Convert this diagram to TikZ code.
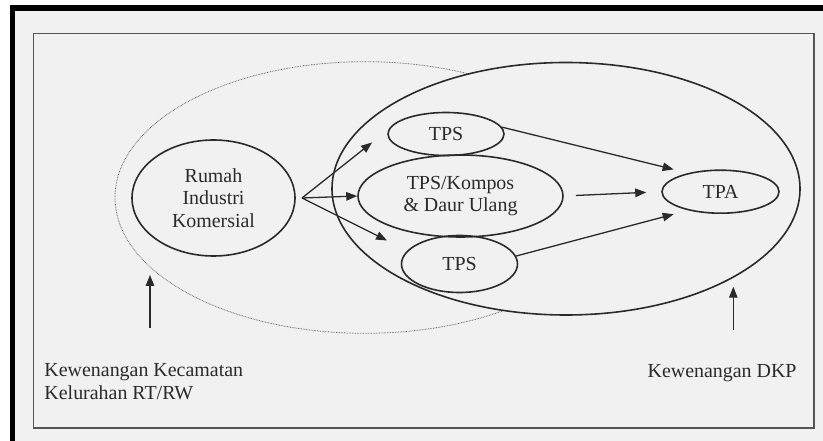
\documentclass[tikz,border=0pt]{standalone}
\usepackage{fontspec}
\setmainfont{Liberation Serif}
\usetikzlibrary{shapes.geometric,arrows.meta}

\definecolor{paper}{HTML}{F1F1F1}
\definecolor{ink}{HTML}{2A2A2A}

\tikzset{
  zone/.style={draw=ink, line width=1.6pt},
  blob/.style={ellipse, draw=ink, line width=1.6pt, inner sep=0pt, align=center, text=ink},
  arr/.style={draw=ink, line width=1.3pt, -{Triangle[length=11pt,width=8.5pt]}},
  lbl/.style={text=ink, inner sep=0pt, align=left}
}

\begin{document}
\begin{tikzpicture}[x=1bp, y=-1bp, font=\fontsize{20}{22.5}\selectfont]
  \useasboundingbox (0,0) rectangle (823,441);
  \fill[paper] (15,11) rectangle (823,441);
  \fill[black] (10,5) rectangle (823,11);
  \fill[black] (10,5) rectangle (15,441);
  \draw[ink!80, line width=1.2pt] (33.5,33.5) rectangle (814,428);

  \draw[ink!75, line width=0.8pt, dash pattern=on 0.7pt off 0.9pt] (365,197.5) ellipse [x radius=250, y radius=135.8];
  \filldraw[fill=paper, zone] (566,188.75) ellipse [x radius=234, y radius=126.25];

  \node[blob, minimum width=163bp, minimum height=116bp] (rumah) at (213.5,198) {Rumah\\Industri\\Komersial};
  \node[blob, minimum width=116bp, minimum height=43bp] (tpsa) at (446,134) {TPS};
  \node[blob, minimum width=205bp, minimum height=82bp] (kompos) at (460.5,196) {TPS/Kompos\\\& Daur Ulang};
  \node[blob, minimum width=116bp, minimum height=57bp] (tpsb) at (459.5,264) {TPS};
  \node[blob, minimum width=117bp, minimum height=43bp] (tpa) at (720.5,191.7) {TPA};

  \coordinate (fan) at (302,198);
  \coordinate (fanUp) at (372,142.5);
  \coordinate (fanDn) at (387,240.5);
  \draw[arr] (fan) -- (fanUp);
  \draw[arr] (fan) -- (kompos.west);
  \draw[arr] (fan) -- (fanDn);

  \draw[arr, shorten >=15bp] (tpsa.7) -- (tpa.150);
  \draw[arr, shorten <=12bp, shorten >=15bp] (kompos.east) -- (tpa.west);
  \draw[arr, shorten >=15bp] (tpsb.8) -- (tpa.210);

  \node[lbl, anchor=base west] (kec) at (44.3,399.3) {Kewenangan Kecamatan\\Kelurahan RT/RW};
  \node[lbl, anchor=base east] (dkp) at (796.7,377.7) {Kewenangan DKP};

  \coordinate (kecFoot) at (150,328.5);
  \coordinate (kecTip) at (150,275);
  \coordinate (dkpFoot) at (733.3,330);
  \coordinate (dkpTip) at (733.3,286.7);
  \draw[arr] (kecFoot) -- (kecTip);
  \draw[arr] (dkpFoot) -- (dkpTip);
\end{tikzpicture}
\end{document}
